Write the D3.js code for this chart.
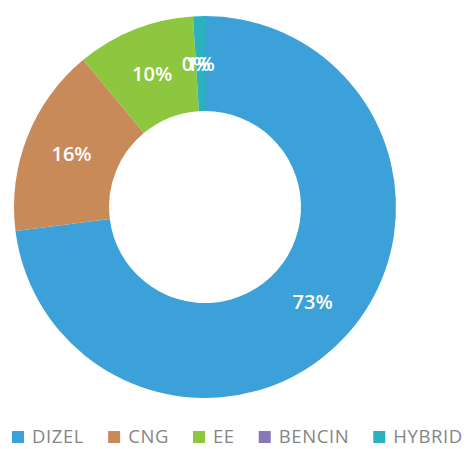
<!DOCTYPE html>
<html>
<head>
<meta charset="utf-8">
<script src="https://cdn.jsdelivr.net/npm/d3@7"></script>
<style>
  html, body { margin: 0; padding: 0; background: #fff; }
  svg { display: block; }
</style>
</head>
<body>
<svg id="chart" width="468" height="449"></svg>
<script>
// Vehicle fleet by fuel type (share, %)
const categories = ["DIZEL", "CNG", "EE", "BENCIN", "HYBRID"];
const shares = [73, 16, 10, 0, 1];
const colors = ["#3ba1d8", "#c98a5a", "#8dc63f", "#8679b5", "#2bb2be"];

const svg = d3.select("#chart");
const cx = 205, cy = 207;
const outerR = 191, innerR = 96;

const pie = d3.pie().sort(null).value(d => d.value);
const arc = d3.arc().innerRadius(innerR).outerRadius(outerR);

const data = categories.map((c, i) => ({ name: c, value: shares[i], color: colors[i] }));
const arcs = pie(data);

const g = svg.append("g").attr("transform", `translate(${cx},${cy})`);

g.selectAll("path.slice")
  .data(arcs)
  .join("path")
  .attr("class", "slice")
  .attr("d", arc)
  .attr("fill", d => d.data.color);

g.selectAll("text.val")
  .data(arcs)
  .join("text")
  .attr("class", "val")
  .attr("transform", d => `translate(${arc.centroid(d)})`)
  .attr("text-anchor", "middle")
  .attr("dy", "0.36em")
  .attr("font-family", "'Open Sans', sans-serif")
  .attr("font-weight", 600)
  .attr("font-size", 20)
  .attr("fill", "#fff")
  .text(d => d.data.value + "%");

// Legend along the bottom
const legend = svg.append("g").attr("transform", "translate(12,437)");
let x = 0;
categories.forEach((c, i) => {
  const item = legend.append("g").attr("transform", `translate(${x},0)`);
  item.append("rect")
    .attr("x", 0).attr("y", -6)
    .attr("width", 12).attr("height", 12)
    .attr("fill", colors[i]);
  const t = item.append("text")
    .attr("x", 20)
    .attr("dy", "0.35em")
    .attr("font-family", "'Open Sans', sans-serif")
    .attr("font-size", 18.5)
    .attr("letter-spacing", 0.6)
    .attr("fill", "#858585")
    .text(c);
  x += 20 + t.node().getComputedTextLength() + 24;
});
</script>
</body>
</html>
